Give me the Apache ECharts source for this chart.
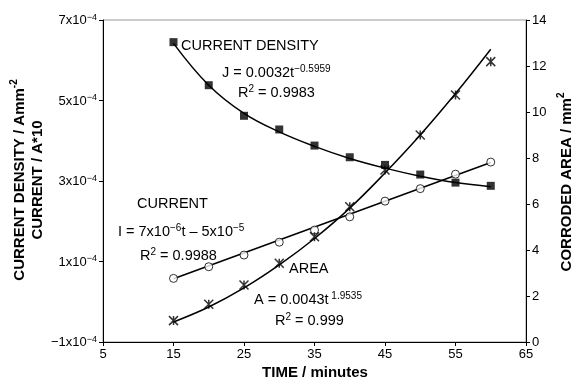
<!DOCTYPE html>
<html>
<head>
<meta charset="utf-8">
<script src="https://cdn.jsdelivr.net/npm/echarts@6/dist/echarts.min.js"></script>
<style>
  html, body { margin: 0; padding: 0; background: #fff; }
  #chart { width: 573px; height: 385px; }
</style>
</head>
<body>
<div id="chart"></div>
<script>
// time points (minutes)
const times = [15, 20, 25, 30, 35, 40, 45, 50, 55, 60];
// current density, units of 1e-4 A/mm2
const densityVals = [6.45, 5.38, 4.62, 4.28, 3.88, 3.59, 3.40, 3.16, 2.96, 2.88];
// current, units of 1e-4 (A*10)
const currentVals = [0.58, 0.87, 1.16, 1.48, 1.78, 2.11, 2.50, 2.81, 3.17, 3.47];
// corroded area, mm2
const areaVals = [0.93, 1.64, 2.48, 3.42, 4.58, 5.88, 7.48, 9.0, 10.74, 12.19];
// fitted curves
const densityFit = [6.42, 5.38, 4.68, 4.22, 3.86, 3.56, 3.32, 3.12, 2.96, 2.86];
const areaFit = [0.87, 1.52, 2.35, 3.35, 4.5, 5.82, 7.35, 9.0, 10.8, 12.73];
const currentFitX = [15, 60];
const currentFitY = [0.57, 3.46];
// tick labels
const leftTicks = { '-1': '\u22121x10', '1': '1x10', '3': '3x10', '5': '5x10', '7': '7x10' };

const font = 'Liberation Sans, Arial, sans-serif';
const pair = (xs, ys) => xs.map((x, i) => [x, ys[i]]);
const crossPath = 'path://M0,0L10,10M10,0L0,10M5,0L5,10';

const chart = echarts.init(document.getElementById('chart'));

const supRich = {
    a: { fontSize: 14.5, fontFamily: font, lineHeight: 16, verticalAlign: 'bottom' },
    s: { fontSize: 10, fontFamily: font, lineHeight: 16, verticalAlign: 'top' }
};
// x = left edge, y = vertical centre
const txt = (x, y, text) => ({
    type: 'text', x: x, y: y,
    style: { text: text, font: '14.5px ' + font, fill: '#000', verticalAlign: 'middle', rich: supRich }
});

const option = {
    animation: false,
    grid: {
        left: 103, right: 47, top: 20, bottom: 43,
        show: true, borderColor: '#999', borderWidth: 1
    },
    xAxis: {
        type: 'value', min: 5, max: 65, interval: 10,
        axisLine: { onZero: false, lineStyle: { color: '#000' } },
        axisTick: { inside: false, length: 4, lineStyle: { color: '#000' } },
        axisLabel: { color: '#000', fontSize: 13, fontFamily: font, margin: 6 },
        splitLine: { show: false }
    },
    yAxis: [
        {
            type: 'value', min: -1, max: 7, interval: 2,
            axisLine: { show: true, onZero: false, lineStyle: { color: '#000' } },
            axisTick: { show: true, length: 4, lineStyle: { color: '#000' } },
            axisLabel: {
                color: '#000', fontSize: 13, fontFamily: font, margin: 6,
                formatter: v => '{a|' + leftTicks[String(v)] + '}{s|\u22124}',
                rich: {
                    a: { fontSize: 13, fontFamily: font, lineHeight: 14, verticalAlign: 'bottom' },
                    s: { fontSize: 9, fontFamily: font, lineHeight: 14, verticalAlign: 'top' }
                }
            },
            splitLine: { show: false }
        },
        {
            type: 'value', min: 0, max: 14, interval: 2, position: 'right',
            axisLine: { show: true, lineStyle: { color: '#000' } },
            axisTick: { show: true, length: 4, lineStyle: { color: '#000' } },
            axisLabel: { color: '#000', fontSize: 13, fontFamily: font, margin: 6 },
            splitLine: { show: false }
        }
    ],
    series: [
        {
            type: 'line', data: pair(times, densityFit), smooth: 0.4, showSymbol: false,
            lineStyle: { color: '#000', width: 1.5 }, z: 2
        },
        {
            type: 'line', yAxisIndex: 1, data: pair(times, areaFit), smooth: 0.4, showSymbol: false,
            lineStyle: { color: '#000', width: 1.5 }, z: 2
        },
        {
            type: 'line', data: pair(currentFitX, currentFitY), showSymbol: false,
            lineStyle: { color: '#000', width: 1.5 }, z: 2
        },
        {
            type: 'scatter', data: pair(times, densityVals), symbol: 'rect', symbolSize: 8,
            itemStyle: { color: '#000' }, z: 5
        },
        {
            type: 'scatter', data: pair(times, currentVals), symbol: 'circle', symbolSize: 8,
            itemStyle: { color: '#fff', borderColor: '#000', borderWidth: 1 }, z: 5
        },
        {
            type: 'scatter', yAxisIndex: 1, data: pair(times, areaVals), symbol: crossPath, symbolSize: 9,
            itemStyle: { color: 'rgba(0,0,0,0)', borderColor: '#000', borderWidth: 1.5 }, z: 5
        }
    ],
    graphic: [
        // axis titles
        {
            type: 'text', x: 315, y: 373,
            style: { text: 'TIME / minutes', font: 'bold 15px ' + font, fill: '#000', align: 'center', verticalAlign: 'middle' }
        },
        {
            type: 'text', x: 9, y: 180, rotation: Math.PI / 2, originX: 0, originY: 0,
            style: {
                text: '{b|CURRENT DENSITY / Amm}{t|-2}\n{b|CURRENT / A*10}',
                align: 'center', verticalAlign: 'top',
                rich: {
                    b: { font: 'bold 15px ' + font, fill: '#000', lineHeight: 18, align: 'center', verticalAlign: 'bottom' },
                    t: { font: 'bold 10px ' + font, fill: '#000', lineHeight: 18, verticalAlign: 'top' }
                }
            }
        },
        {
            type: 'text', x: 556, y: 182, rotation: Math.PI / 2, originX: 0, originY: 0,
            style: {
                text: '{b|CORRODED AREA / mm}{t|2}',
                align: 'center', verticalAlign: 'top',
                rich: {
                    b: { font: 'bold 15px ' + font, fill: '#000', lineHeight: 18, verticalAlign: 'bottom' },
                    t: { font: 'bold 10px ' + font, fill: '#000', lineHeight: 18, verticalAlign: 'top' }
                }
            }
        },
        // annotations
        txt(181, 45, '{a|CURRENT DENSITY}'),
        txt(222, 72, '{a|J = 0.0032t}{s|\u22120.5959}'),
        txt(238, 92, '{a|R}{s|2}{a| = 0.9983}'),
        txt(137, 203, '{a|CURRENT}'),
        txt(118, 231, '{a|I = 7x10}{s|\u22126}{a|t \u2013 5x10}{s|\u22125}'),
        txt(140, 255, '{a|R}{s|2}{a| = 0.9988}'),
        txt(289, 268, '{a|AREA}'),
        txt(254, 299, '{a|A = 0.0043t}{s| 1.9535}'),
        txt(275, 320, '{a|R}{s|2}{a| = 0.999}')
    ]
};

chart.setOption(option);
</script>
</body>
</html>
